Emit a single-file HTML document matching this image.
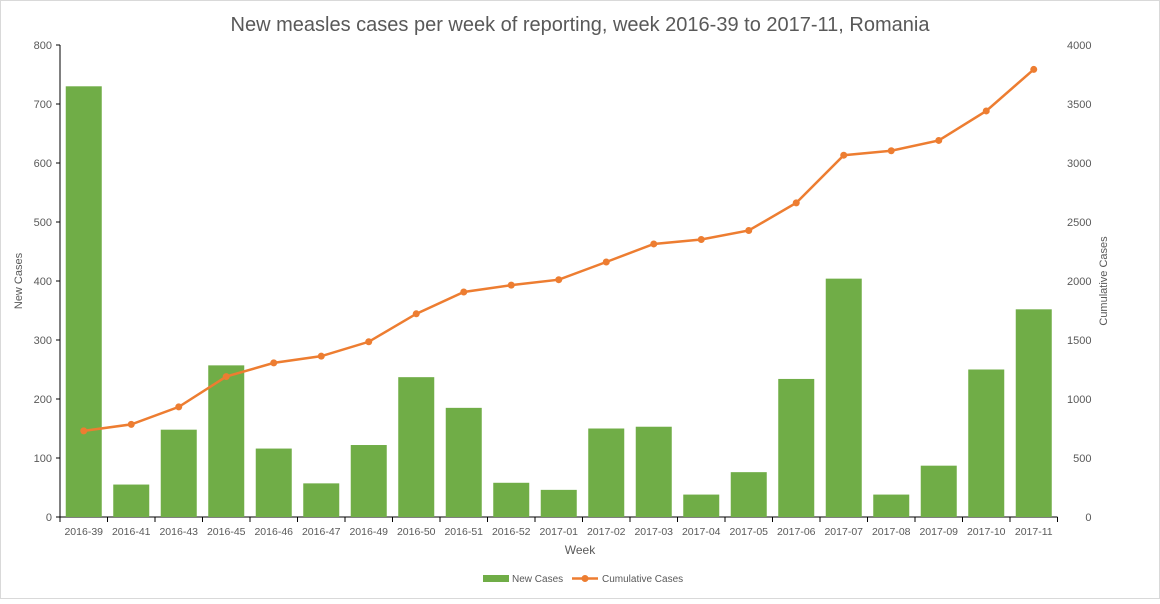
<!DOCTYPE html>
<html><head><meta charset="utf-8"><style>
body{margin:0;background:#fff;font-family:"Liberation Sans",sans-serif}
svg text{font-family:"Liberation Sans",sans-serif}
</style></head><body>
<svg width="1160" height="599">
<rect x="0.5" y="0.5" width="1159" height="598" fill="#fff" stroke="#d9d9d9"/>
<text x="580" y="31" text-anchor="middle" font-size="20" fill="#595959">New measles cases per week of reporting, week 2016-39 to 2017-11, Romania</text>
<g id="axes"></g><g id="bars"></g><g id="line"></g>
<text x="580" y="554" text-anchor="middle" font-size="12" fill="#595959">Week</text>
<text transform="translate(22,281) rotate(-90)" text-anchor="middle" font-size="11" fill="#595959">New Cases</text>
<text transform="translate(1107,281) rotate(-90)" text-anchor="middle" font-size="11" fill="#595959">Cumulative Cases</text>
<g><rect x="483" y="575" width="26" height="7" fill="#70ad47"/><text x="512" y="582" font-size="10" fill="#595959">New Cases</text></g>
<g><line x1="572" y1="578.5" x2="598" y2="578.5" stroke="#ed7d31" stroke-width="2.5"/><circle cx="585" cy="578.5" r="3.5" fill="#ed7d31"/><text x="602" y="582" font-size="10" fill="#595959">Cumulative Cases</text></g>
</svg>
<script>
const categories=["2016-39","2016-41","2016-43","2016-45","2016-46","2016-47","2016-49","2016-50","2016-51","2016-52","2017-01","2017-02","2017-03","2017-04","2017-05","2017-06","2017-07","2017-08","2017-09","2017-10","2017-11"];
const newCases=[730,55,148,257,116,57,122,237,185,58,46,150,153,38,76,234,404,38,87,250,352];
const cumulative=[730,785,933,1190,1306,1363,1485,1722,1907,1965,2011,2161,2314,2352,2428,2662,3066,3104,3191,3441,3793];
const leftTicks=[0,100,200,300,400,500,600,700,800];
const rightTicks=[0,500,1000,1500,2000,2500,3000,3500,4000];
const NS="http://www.w3.org/2000/svg";
const X0=60,X1=1057.5,Y0=517,Y1=45;
const bw=(X1-X0)/categories.length;
const xc=i=>X0+bw*(i+0.5);
const yL=v=>Y0-(v/800)*(Y0-Y1);
const yR=v=>Y0-(v/4000)*(Y0-Y1);
function mk(t,a,p){const e=document.createElementNS(NS,t);for(const k in a)e.setAttribute(k,a[k]);p.appendChild(e);return e;}
const axes=document.getElementById('axes');
leftTicks.forEach(v=>{const t=mk('text',{x:X0-8,y:yL(v)+4,'text-anchor':'end','font-size':11,fill:'#595959'},axes);t.textContent=v;


mk('line',{x1:X0-4,x2:X0,y1:yL(v),y2:yL(v),stroke:'#000'},axes);});
rightTicks.forEach(v=>{const t=mk('text',{x:X1+34,y:yR(v)+4,'text-anchor':'end','font-size':11,fill:'#595959'},axes);t.textContent=v;

});
mk('line',{x1:X0,x2:X0,y1:Y1,y2:Y0,stroke:'#000'},axes);
mk('line',{x1:X0,x2:X1,y1:Y0,y2:Y0,stroke:'#000'},axes);
categories.forEach((c,i)=>{mk('line',{x1:X0+bw*i,x2:X0+bw*i,y1:Y0,y2:Y0+5,stroke:'#000'},axes);
const t=mk('text',{x:xc(i),y:535,'text-anchor':'middle','font-size':10.5,fill:'#595959'},axes);t.textContent=c;

});
mk('line',{x1:X1,x2:X1,y1:Y0,y2:Y0+5,stroke:'#000'},axes);
const bars=document.getElementById('bars');
newCases.forEach((v,i)=>{const r=mk('rect',{x:xc(i)-18,width:36,y:yL(v),height:Y0-yL(v),fill:'#70ad47'},bars);

});
const line=document.getElementById('line');
const p=mk('polyline',{points:cumulative.map((v,i)=>xc(i)+','+yR(v)).join(' '),fill:'none',stroke:'#ed7d31','stroke-width':2.5},line);


cumulative.forEach((v,i)=>{const c=mk('circle',{cx:xc(i),cy:yR(v),r:3.5,fill:'#ed7d31'},line);

});
</script>
</body></html>
